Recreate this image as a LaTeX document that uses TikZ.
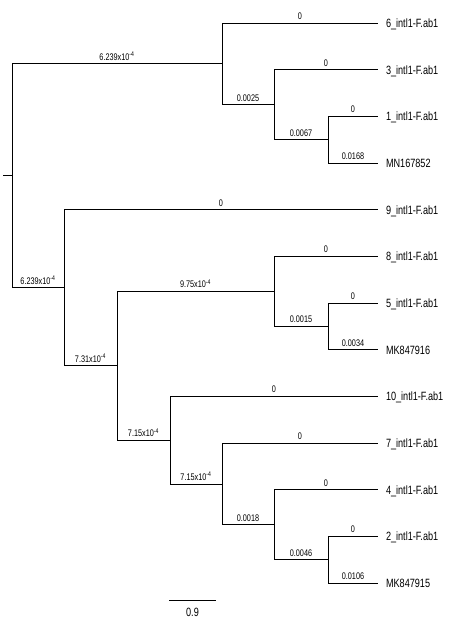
\documentclass[tikz,border=0pt]{standalone}
\usepackage{fontspec}
\setmainfont{Liberation Sans}
\newfontfamily\treefont[FakeStretch=0.76]{Liberation Sans}
\usetikzlibrary{positioning}

\begin{document}
\begin{tikzpicture}[
    x=1pt,y=-1pt,
    branch/.style={draw=black,line width=0.75pt},
    leaf/.style={anchor=west,inner xsep=4pt,outer xsep=4pt,inner ysep=0pt,
      text height=8.6pt,text depth=0pt,font=\treefont\fontsize{12}{12}\selectfont},
    blabel/.style={pos=0.75,above=3pt,inner sep=0pt,font=\treefont\fontsize{9.6}{9.6}\selectfont}
  ]
  \useasboundingbox (0,0) rectangle (452,624);
  % leaves
  \node[leaf] (l6) at (378,23) {6\_intl1-F.ab1};
  \node[leaf] (l3) at (378,69.7) {3\_intl1-F.ab1};
  \node[leaf] (l1) at (378,116.3) {1\_intl1-F.ab1};
  \node[leaf] (mn852) at (378,163) {MN167852};
  \node[leaf] (l9) at (378,209.7) {9\_intl1-F.ab1};
  \node[leaf] (l8) at (378,256.3) {8\_intl1-F.ab1};
  \node[leaf] (l5) at (378,303) {5\_intl1-F.ab1};
  \node[leaf] (mk916) at (378,349.7) {MK847916};
  \node[leaf] (l10) at (378,396.3) {10\_intl1-F.ab1};
  \node[leaf] (l7) at (378,443) {7\_intl1-F.ab1};
  \node[leaf] (l4) at (378,489.7) {4\_intl1-F.ab1};
  \node[leaf] (l2) at (378,536.3) {2\_intl1-F.ab1};
  \node[leaf] (mk915) at (378,583) {MK847915};
  % internal nodes
  \coordinate (stub) at (3,175.7);
  \coordinate (root) at (12,175.7);
  \coordinate (nA) at (222,63.8);
  \coordinate (nB) at (274,104.7);
  \coordinate (nC) at (328,139.7);
  \coordinate (nD) at (64,287.7);
  \coordinate (nE) at (117,365.7);
  \coordinate (nF) at (274,291.3);
  \coordinate (nG) at (328,326.3);
  \coordinate (nH) at (170,440.1);
  \coordinate (nI) at (222,483.9);
  \coordinate (nJ) at (274,524.8);
  \coordinate (nK) at (328,559.7);
  % branches
  \draw[branch] (stub) -- (root);
  \draw[branch] (root) |- (nA) node[blabel] {6.239x10\textsuperscript{-4}};
  \draw[branch] (root) |- (nD) node[blabel] {6.239x10\textsuperscript{-4}};
  \draw[branch] (nA) |- (l6) node[blabel] {0};
  \draw[branch] (nA) |- (nB) node[blabel] {0.0025};
  \draw[branch] (nB) |- (l3) node[blabel] {0};
  \draw[branch] (nB) |- (nC) node[blabel] {0.0067};
  \draw[branch] (nC) |- (l1) node[blabel] {0};
  \draw[branch] (nC) |- (mn852) node[blabel] {0.0168};
  \draw[branch] (nD) |- (l9) node[blabel] {0};
  \draw[branch] (nD) |- (nE) node[blabel] {7.31x10\textsuperscript{-4}};
  \draw[branch] (nE) |- (nF) node[blabel] {9.75x10\textsuperscript{-4}};
  \draw[branch] (nF) |- (l8) node[blabel] {0};
  \draw[branch] (nF) |- (nG) node[blabel] {0.0015};
  \draw[branch] (nG) |- (l5) node[blabel] {0};
  \draw[branch] (nG) |- (mk916) node[blabel] {0.0034};
  \draw[branch] (nE) |- (nH) node[blabel] {7.15x10\textsuperscript{-4}};
  \draw[branch] (nH) |- (l10) node[blabel] {0};
  \draw[branch] (nH) |- (nI) node[blabel] {7.15x10\textsuperscript{-4}};
  \draw[branch] (nI) |- (l7) node[blabel] {0};
  \draw[branch] (nI) |- (nJ) node[blabel] {0.0018};
  \draw[branch] (nJ) |- (l4) node[blabel] {0};
  \draw[branch] (nJ) |- (nK) node[blabel] {0.0046};
  \draw[branch] (nK) |- (l2) node[blabel] {0};
  \draw[branch] (nK) |- (mk915) node[blabel] {0.0106};
  % scale bar
  \coordinate (sbl) at (169,600);
  \coordinate (sbr) at (216,600);
  \draw[branch] (sbl) -- (sbr)
    node[midway,below=8pt,inner sep=0pt,font=\treefont\fontsize{12}{12}\selectfont] (sbtext) {0.9};
\end{tikzpicture}
\end{document}
